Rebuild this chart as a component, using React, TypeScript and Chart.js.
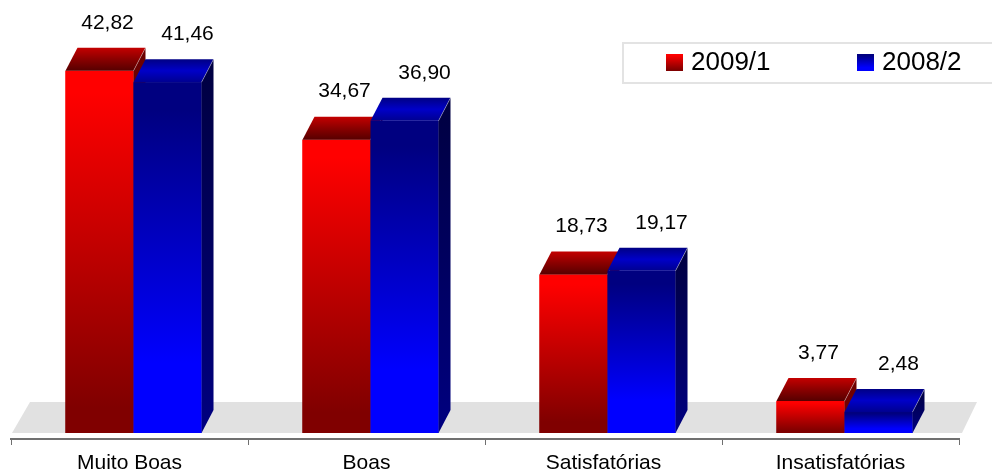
import React, { useEffect, useRef } from "react";
import { Chart, registerables } from "chart.js";

Chart.register(...registerables);

// ---- data ----
const categories = ["Muito Boas", "Boas", "Satisfatórias", "Insatisfatórias"];
const seriesLabels = ["2009/1", "2008/2"];
const values2009_1 = [42.82, 34.67, 18.73, 3.77];
const values2008_2 = [41.46, 36.9, 19.17, 2.48];

// ---- style ----
const FONT = '"Liberation Sans", Arial, Helvetica, sans-serif';
const DX = 12;
const DY = 23;
const FLOOR_DX = 17;
const FLOOR_DY = 31;
const BAR_SHIFT = 4;

const palettes = [
  {
    front: [
      [0, "#ff0000"],
      [0.06, "#ff0000"],
      [0.93, "#800000"],
      [1, "#800000"],
    ],
    top: ["#c40000", "#8a0000", "#560000"],
    sideTop: "#6a0000",
    sideBottom: "#800000",
    labelShift: 8,
  },
  {
    front: [
      [0, "#000080"],
      [0.08, "#000080"],
      [0.8, "#0000ff"],
      [1, "#0000ff"],
    ],
    top: ["#000084", "#0000c8", "#000090"],
    sideTop: "#000040",
    sideBottom: "#000080",
    labelShift: 20,
  },
];

const fmt = (v: number) => v.toFixed(2).replace(".", ",");

function frontGradient(ctx: CanvasRenderingContext2D, d: number, top: number, bottom: number) {
  const g = ctx.createLinearGradient(0, top, 0, bottom);
  (palettes[d].front as [number, string][]).forEach(([o, c]) => g.addColorStop(o, c));
  return g;
}

const shiftPlugin = {
  id: "barShift",
  afterDatasetsUpdate(chart: any) {
    chart.data.datasets.forEach((_ds: any, d: number) => {
      chart.getDatasetMeta(d).data.forEach((el: any) => {
        el.x = el.x + BAR_SHIFT;
      });
    });
  },
};

const floorPlugin = {
  id: "floor3d",
  beforeDatasetsDraw(chart: any) {
    const { ctx, chartArea, scales } = chart;
    const y0 = scales.y.getPixelForValue(0);
    const l = chartArea.left + 1;
    const r = chartArea.right + 3;
    ctx.save();
    ctx.fillStyle = "#e1e1e1";
    ctx.beginPath();
    ctx.moveTo(l, y0);
    ctx.lineTo(r, y0);
    ctx.lineTo(r + FLOOR_DX - 2, y0 - FLOOR_DY);
    ctx.lineTo(l + FLOOR_DX + 1, y0 - FLOOR_DY);
    ctx.closePath();
    ctx.fill();
    ctx.restore();
  },
};

const bar3dPlugin = {
  id: "bar3d",
  afterDatasetsDraw(chart: any) {
    const { ctx } = chart;
    const n = chart.data.labels.length;
    ctx.save();
    for (let i = 0; i < n; i++) {
      chart.data.datasets.forEach((_ds: any, d: number) => {
        const el = chart.getDatasetMeta(d).data[i];
        if (!el) return;
        const { x, y, base, width } = el.getProps(["x", "y", "base", "width"], true);
        const left = x - width / 2;
        const right = x + width / 2;
        const p = palettes[d];
        // front
        ctx.fillStyle = frontGradient(ctx, d, y, base);
        ctx.fillRect(left, y, width, base - y);
        // top
        const gt = ctx.createLinearGradient(0, y - DY, 0, y);
        gt.addColorStop(0, p.top[0]);
        gt.addColorStop(0.5, p.top[1]);
        gt.addColorStop(1, p.top[2]);
        ctx.fillStyle = gt;
        ctx.beginPath();
        ctx.moveTo(left, y);
        ctx.lineTo(right, y);
        ctx.lineTo(right + DX, y - DY);
        ctx.lineTo(left + DX, y - DY);
        ctx.closePath();
        ctx.fill();
        // side
        const gs = ctx.createLinearGradient(0, y - DY, 0, base);
        gs.addColorStop(0, p.sideTop);
        gs.addColorStop(1, p.sideBottom);
        ctx.fillStyle = gs;
        ctx.beginPath();
        ctx.moveTo(right, y);
        ctx.lineTo(right + DX, y - DY);
        ctx.lineTo(right + DX, base - DY);
        ctx.lineTo(right, base);
        ctx.closePath();
        ctx.fill();
        // light edge
        ctx.strokeStyle = "rgba(255,255,255,0.35)";
        ctx.lineWidth = 1;
        ctx.beginPath();
        ctx.moveTo(right, y);
        ctx.lineTo(right + DX, y - DY);
        ctx.stroke();
      });
    }
    // value labels
    ctx.fillStyle = "#000";
    ctx.font = `21px ${FONT}`;
    ctx.textAlign = "center";
    ctx.textBaseline = "middle";
    chart.data.datasets.forEach((ds: any, d: number) => {
      const meta = chart.getDatasetMeta(d);
      meta.data.forEach((el: any, i: number) => {
        const { x, y } = el.getProps(["x", "y"], true);
        ctx.fillText(fmt(ds.data[i]), x + palettes[d].labelShift, y - 48);
      });
    });
    ctx.restore();
  },
};

const legendPlugin = {
  id: "boxLegend",
  afterDraw(chart: any) {
    const { ctx, width } = chart;
    const boxLeft = width - 369;
    const boxTop = 43;
    ctx.save();
    ctx.strokeStyle = "#e3e3e3";
    ctx.lineWidth = 2;
    ctx.strokeRect(boxLeft, boxTop, 400, 40);
    ctx.font = `26px ${FONT}`;
    ctx.textBaseline = "middle";
    ctx.textAlign = "left";
    const itemX = [boxLeft + 43, boxLeft + 234];
    chart.data.datasets.forEach((ds: any, d: number) => {
      const sx = itemX[d];
      const sy = 54;
      ctx.fillStyle = frontGradient(ctx, d, sy, sy + 17);
      ctx.fillRect(sx, sy, 17, 17);
      ctx.fillStyle = "#000";
      ctx.fillText(ds.label, sx + 25, 63);
    });
    ctx.restore();
  },
};

export default function App() {
  const ref = useRef<HTMLCanvasElement | null>(null);
  useEffect(() => {
    document.body.style.margin = "0";
    const canvas = ref.current;
    if (!canvas) return;
    const seriesValues = [values2009_1, values2008_2];
    const chart = new Chart(canvas, {
      type: "bar",
      data: {
        labels: categories,
        datasets: seriesValues.map((vals, d) => ({
          label: seriesLabels[d],
          data: vals,
          backgroundColor: (c: any) => {
            const ch = c.chart;
            if (!ch.chartArea || c.raw === undefined) return "#ff0000";
            const ys = ch.scales.y;
            return frontGradient(ch.ctx, d, ys.getPixelForValue(c.raw), ys.getPixelForValue(0));
          },
          borderWidth: 0,
          categoryPercentage: 0.574,
          barPercentage: 1,
        })),
      },
      options: {
        animation: false,
        responsive: false,
        events: [],
        layout: { padding: { left: 11, right: 33, top: 10, bottom: 0 } },
        plugins: {
          legend: { display: false },
          tooltip: { enabled: false },
        },
        scales: {
          x: {
            offset: true,
            grid: {
              offset: true,
              drawOnChartArea: false,
              drawTicks: true,
              tickLength: 6,
              color: "#707070",
              lineWidth: 1,
            },
            border: { display: true, color: "#707070", width: 2 },
            ticks: {
              color: "#000",
              font: { family: FONT, size: 21 },
              padding: 6,
              maxRotation: 0,
            },
            afterFit: (s: any) => {
              s.height = 33;
            },
          },
          y: {
            display: false,
            min: -0.709,
            max: 50,
          },
        },
      },
      plugins: [shiftPlugin, floorPlugin, bar3dPlugin, legendPlugin],
    });
    return () => chart.destroy();
  }, []);
  return (
    <div style={{ width: 992, height: 472, background: "#fff" }}>
      <canvas ref={ref} width={992} height={472} />
    </div>
  );
}
